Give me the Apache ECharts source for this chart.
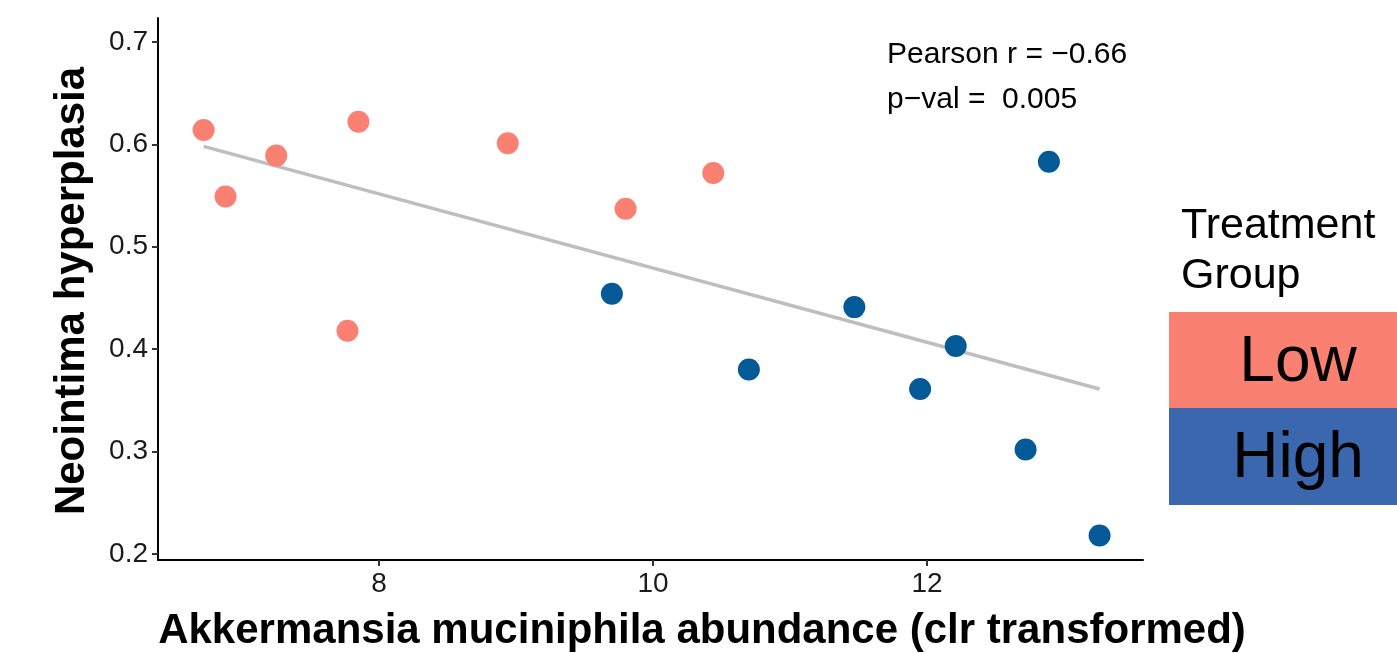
<!DOCTYPE html>
<html>
<head>
<meta charset="utf-8">
<title>Neointima hyperplasia vs Akkermansia</title>
<script src="https://cdn.jsdelivr.net/npm/echarts@6/dist/echarts.min.js"></script>
<style>
  * { margin: 0; padding: 0; }
  body { background: #fff; }
  #main { width: 1397px; height: 653px; }
</style>
</head>
<body>
<div id="main"></div>
<script>
  // 数据
  let lowX = [6.72, 6.88, 7.25, 7.85, 7.77, 8.94, 9.80, 10.44];
  let lowY = [0.614, 0.549, 0.589, 0.622, 0.418, 0.601, 0.537, 0.572];
  let highX = [9.70, 10.70, 11.47, 11.95, 12.21, 12.89, 12.72, 13.26];
  let highY = [0.454, 0.380, 0.441, 0.361, 0.403, 0.583, 0.302, 0.218];
  let fitX = [6.72, 13.26];
  let fitY = [0.598, 0.361];
  let xTicks = [8, 10, 12];
  let yTicks = [0.2, 0.3, 0.4, 0.5, 0.6, 0.7];
  let groups = ['Low', 'High'];

  let myColor = ['#FA8072', '#045A96', '#3A67AE'];
  let font = 'Liberation Sans, Arial, Helvetica, sans-serif';

  function pairs(xs, ys) {
    return xs.map((x, i) => [x, ys[i]]);
  }

  let myChart = echarts.init(document.getElementById('main'));
  let option = {
    backgroundColor: '#fff',
    animation: false,
    grid: { left: 158, right: 254, top: 18, bottom: 93 },
    xAxis: {
      type: 'value',
      min: 6.387,
      max: 13.577,
      splitLine: { show: false },
      axisLine: { show: true, lineStyle: { color: '#000', width: 2 } },
      axisTick: { show: true, length: 6, customValues: xTicks, lineStyle: { color: '#333', width: 2 } },
      axisLabel: { customValues: xTicks, color: '#1a1a1a', fontSize: 28, fontFamily: font, margin: 10 }
    },
    yAxis: {
      type: 'value',
      min: 0.194,
      max: 0.7234,
      splitLine: { show: false },
      axisLine: { show: true, lineStyle: { color: '#000', width: 2 } },
      axisTick: { show: true, length: 6, customValues: yTicks, lineStyle: { color: '#333', width: 2 } },
      axisLabel: {
        customValues: yTicks, color: '#1a1a1a', fontSize: 28, fontFamily: font, margin: 10,
        formatter: v => v.toFixed(1)
      }
    },
    series: [
      {
        type: 'line',
        data: pairs(fitX, fitY),
        symbol: 'none',
        lineStyle: { color: '#BEBEBE', width: 3.5 },
        z: 2
      },
      {
        name: groups[0],
        type: 'scatter',
        data: pairs(lowX, lowY),
        symbolSize: 22,
        itemStyle: { color: myColor[0], opacity: 1 },
        z: 3
      },
      {
        name: groups[1],
        type: 'scatter',
        data: pairs(highX, highY),
        symbolSize: 22,
        itemStyle: { color: myColor[1], opacity: 1 },
        z: 3
      }
    ],
    graphic: [
      {
        type: 'text', x: 702, y: 631,
        style: {
          text: 'Akkermansia muciniphila abundance (clr transformed)',
          font: 'bold 42px ' + font, fill: '#000',
          textAlign: 'center', textVerticalAlign: 'middle'
        }
      },
      {
        type: 'text', x: 72, y: 291, rotation: Math.PI / 2,
        style: {
          text: 'Neointima hyperplasia',
          font: 'bold 42px ' + font, fill: '#000',
          textAlign: 'center', textVerticalAlign: 'middle'
        }
      },
      {
        type: 'text', x: 887, y: 55,
        style: { text: 'Pearson r = \u22120.66', font: '30px ' + font, fill: '#000', textVerticalAlign: 'middle' }
      },
      {
        type: 'text', x: 887, y: 100,
        style: { text: 'p\u2212val =  0.005', font: '30px ' + font, fill: '#000', textVerticalAlign: 'middle' }
      },
      {
        type: 'text', x: 1181, y: 226,
        style: { text: 'Treatment', font: '43px ' + font, fill: '#000', textVerticalAlign: 'middle' }
      },
      {
        type: 'text', x: 1181, y: 276,
        style: { text: 'Group', font: '43px ' + font, fill: '#000', textVerticalAlign: 'middle' }
      },
      {
        type: 'rect', shape: { x: 1169, y: 312, width: 228, height: 97 },
        style: { fill: myColor[0] }
      },
      {
        type: 'rect', shape: { x: 1169, y: 408, width: 228, height: 97 },
        style: { fill: myColor[2] }
      },
      {
        type: 'text', x: 1298, y: 363,
        style: { text: groups[0], font: '64px ' + font, fill: '#000', textAlign: 'center', textVerticalAlign: 'middle' }
      },
      {
        type: 'text', x: 1298, y: 459,
        style: { text: groups[1], font: '64px ' + font, fill: '#000', textAlign: 'center', textVerticalAlign: 'middle' }
      }
    ]
  };
  myChart.setOption(option);
</script>
</body>
</html>
